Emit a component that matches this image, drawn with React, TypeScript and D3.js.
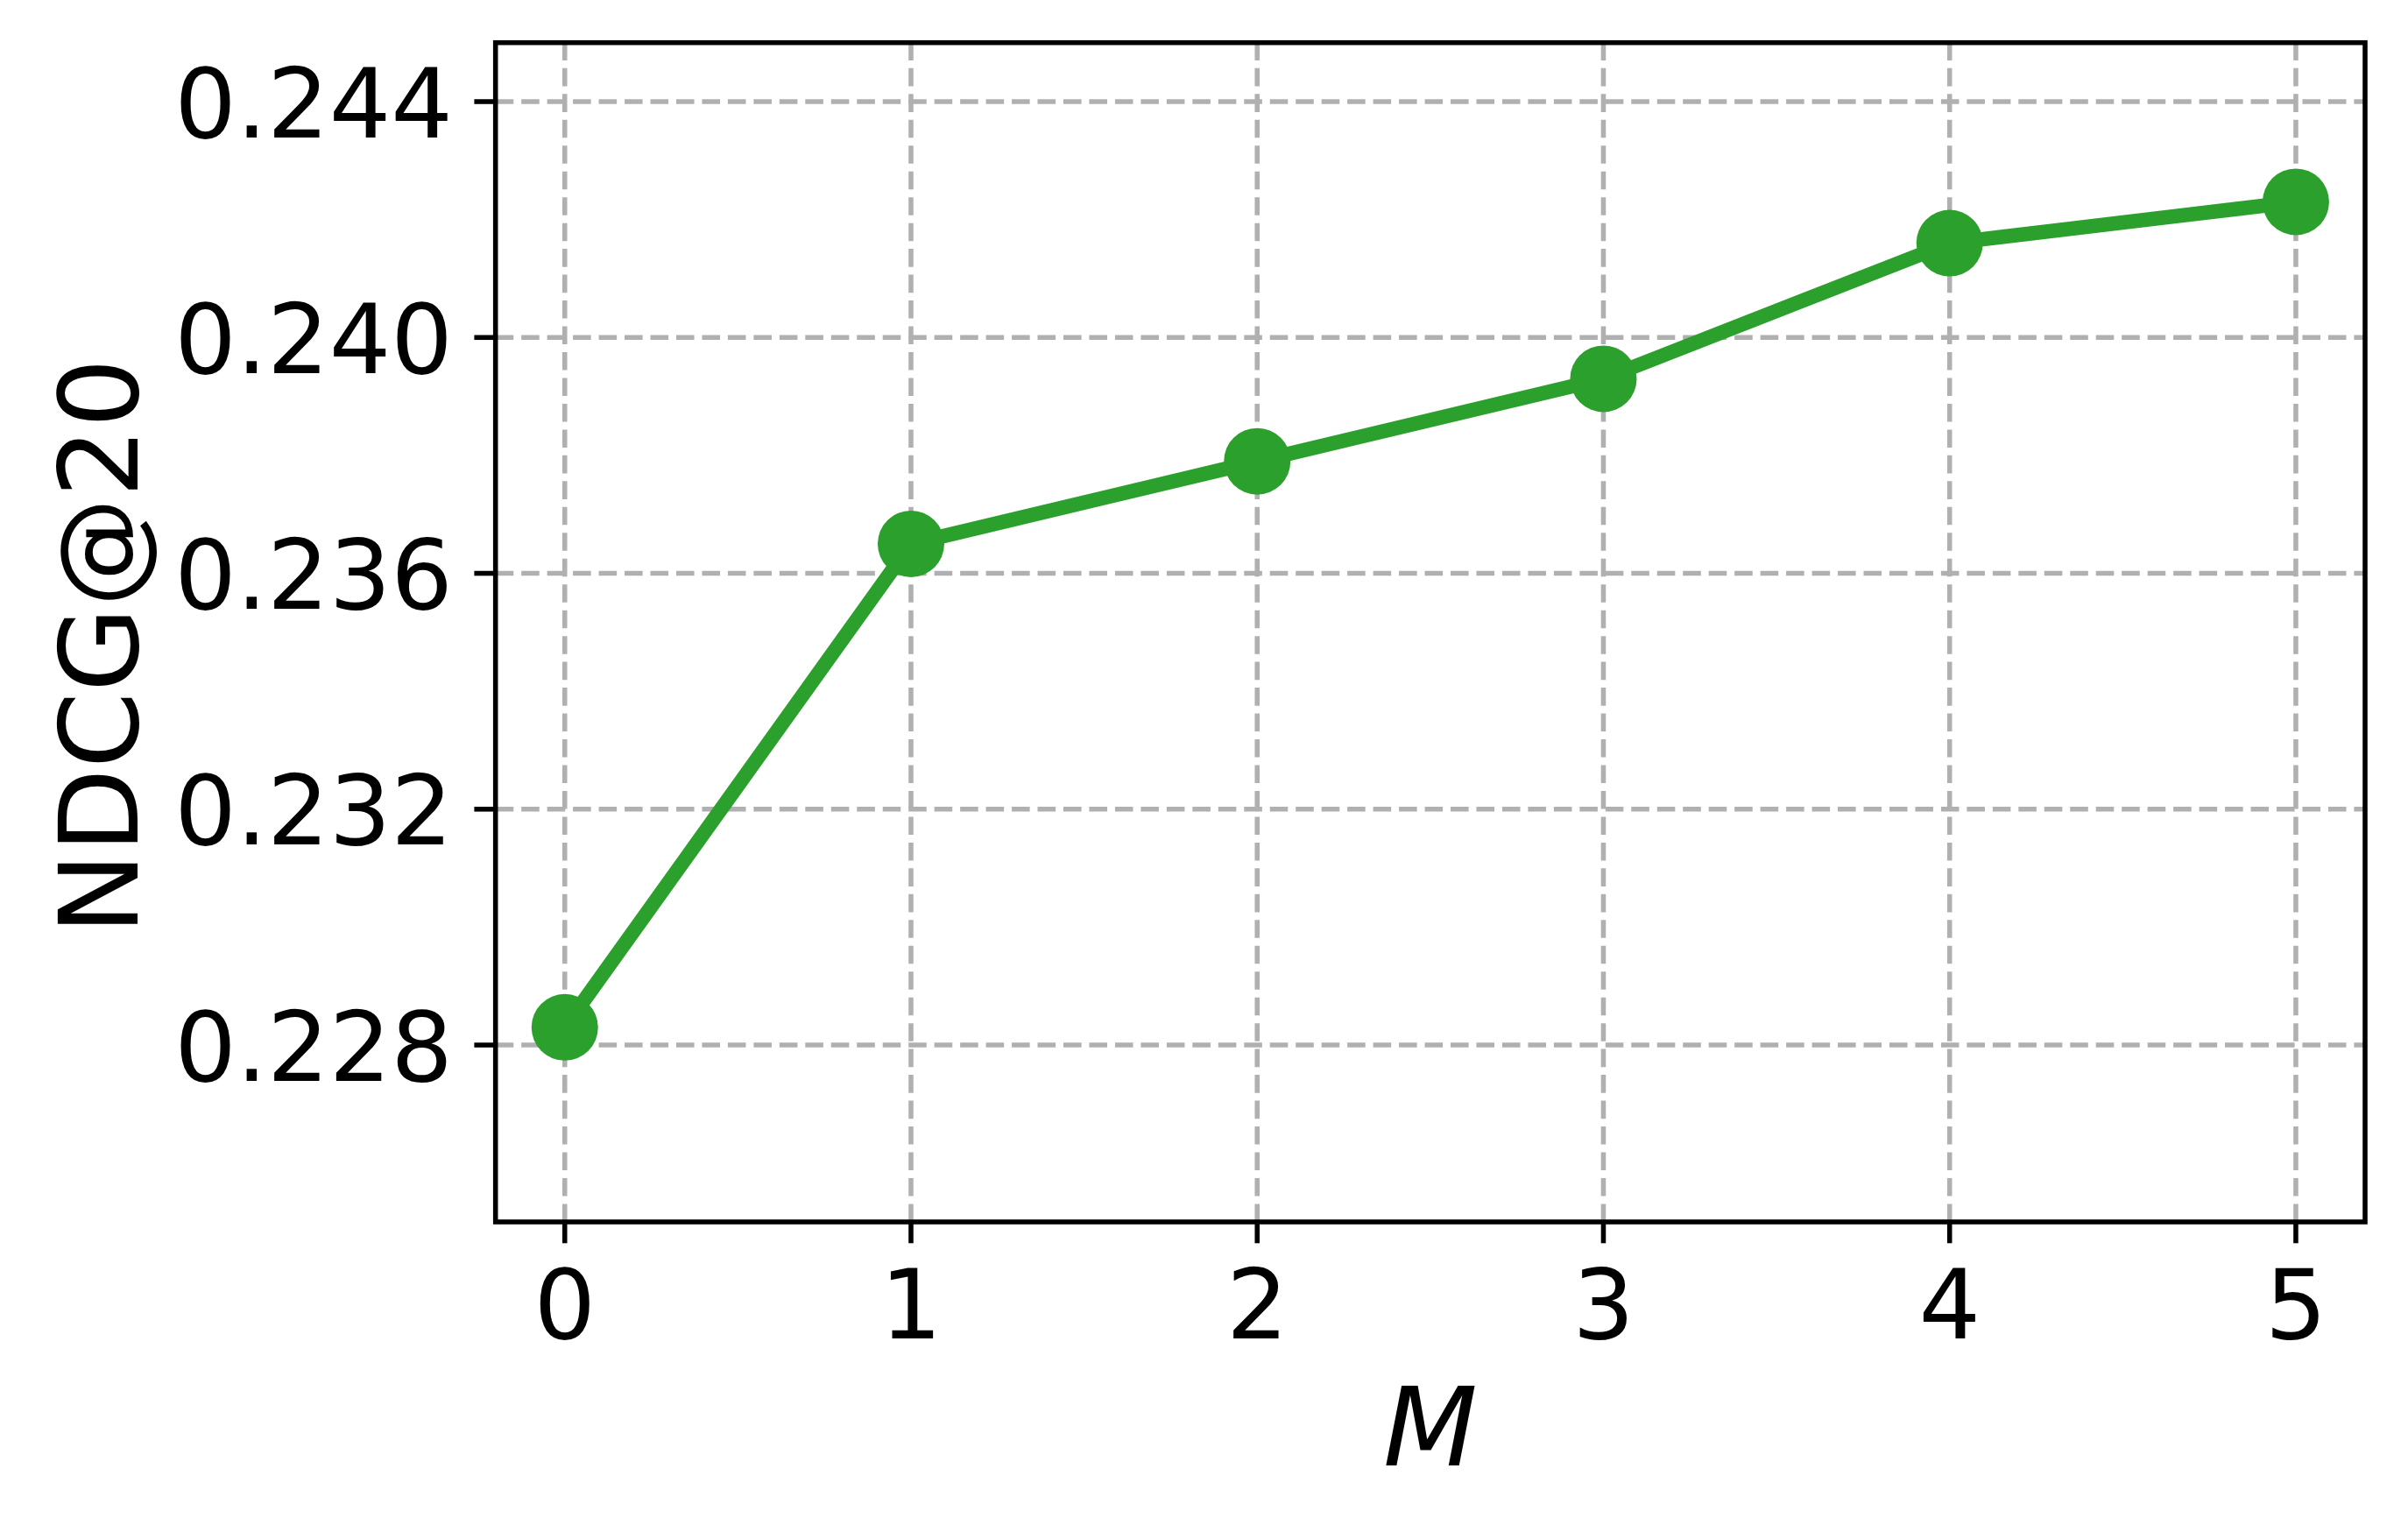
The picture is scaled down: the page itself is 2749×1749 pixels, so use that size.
import React from "react";
import * as d3 from "d3";

// values
const mValues = [0, 1, 2, 3, 4, 5];
const ndcg = [0.2283, 0.2365, 0.2379, 0.2393, 0.2416, 0.2423];
const yTicks = [0.228, 0.232, 0.236, 0.24, 0.244];
const xTicks = [0, 1, 2, 3, 4, 5];

const width = 2749;
const height = 1749;
const box = { left: 565.7, right: 2700, top: 48.7, bottom: 1395 };

const green = "#2ca02c";
const font = "DejaVu Sans";
const lw = 5.56; // 0.8pt at ~500dpi

const App = () => {
    const x = d3.scaleLinear([-0.2, 5.2], [box.left, box.right]);
    const y = d3.scaleLinear([0.225, 0.245], [box.bottom, box.top]);

    const pts = mValues.map((m, i) => ({ m, v: ndcg[i] }));
    const line = d3.line<{ m: number; v: number }>()
        .x(d => x(d.m))
        .y(d => y(d.v));

    const dash = `${3.7 * lw},${1.6 * lw}`;
    const tickLen = 24.3;

    return (
        <svg
            width={width}
            height={height}
            viewBox={`0 0 ${width} ${height}`}
            style={{ position: "absolute", left: 0, top: 0, background: "#fff" }}
        >
            <rect x={0} y={0} width={width} height={height} fill="#fff" />

            {/* grid */}
            <g stroke="#b0b0b0" strokeWidth={lw} strokeDasharray={dash} fill="none">
                {xTicks.map(t => (
                    <line key={"gx" + t} x1={x(t)} x2={x(t)} y1={box.bottom} y2={box.top} />
                ))}
                {yTicks.map(t => (
                    <line key={"gy" + t} x1={box.left} x2={box.right} y1={y(t)} y2={y(t)} />
                ))}
            </g>

            {/* series */}
            <path
                d={line(pts) ?? ""}
                fill="none"
                stroke={green}
                strokeWidth={16.5}
                strokeLinejoin="round"
                strokeLinecap="butt"
            />
            {pts.map(p => (
                <circle key={p.m} cx={x(p.m)} cy={y(p.v)} r={38} fill={green} />
            ))}

            {/* spines */}
            <rect
                x={box.left}
                y={box.top}
                width={box.right - box.left}
                height={box.bottom - box.top}
                fill="none"
                stroke="#000"
                strokeWidth={lw}
                strokeLinejoin="miter"
            />

            {/* ticks and tick labels */}
            <g fontFamily={font} fontSize={111} fill="#000">
                {xTicks.map(t => (
                    <g key={"xt" + t}>
                        <line x1={x(t)} x2={x(t)} y1={box.bottom} y2={box.bottom + tickLen} stroke="#000" strokeWidth={lw} />
                        <text x={x(t)} y={1528} textAnchor="middle">{t}</text>
                    </g>
                ))}
                {yTicks.map(t => (
                    <g key={"yt" + t}>
                        <line x1={box.left - tickLen} x2={box.left} y1={y(t)} y2={y(t)} stroke="#000" strokeWidth={lw} />
                        <text x={517} y={y(t) + 40.5} textAnchor="end">{d3.format(".3f")(t)}</text>
                    </g>
                ))}
            </g>

            {/* axis labels */}
            <text
                x={(box.left + box.right) / 2}
                y={1673}
                textAnchor="middle"
                fontFamily={font}
                fontStyle="italic"
                fontSize={125}
            >
                M
            </text>
            <text
                transform={`translate(157, 738) rotate(-90)`}
                textAnchor="middle"
                fontFamily={font}
                fontSize={125}
            >
                NDCG@20
            </text>
        </svg>
    );
};

export default App;
